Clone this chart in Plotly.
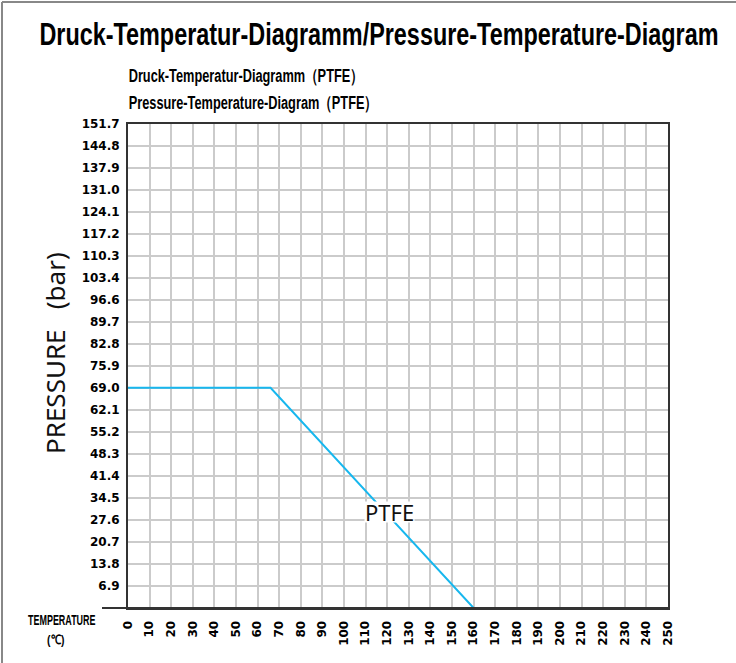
import plotly.graph_objects as go

# Data
temperature = [0, 66, 160]
pressure = [69.0, 69.0, 0.0]
x_ticks = list(range(0, 251, 10))
y_tick_labels = ["6.9", "13.8", "20.7", "27.6", "34.5", "41.4", "48.3", "55.2", "62.1",
                 "69.0", "75.9", "82.8", "89.7", "96.6", "103.4", "110.3", "117.2",
                 "124.1", "131.0", "137.9", "144.8", "151.7"]
y_tick_vals = [float(v) for v in y_tick_labels]
series_label = "PTFE"
label_pos = (121, 30.1)

W, H = 736, 663
L, R, T, B = 128, 68, 124, 55
pw, ph = W - L - R, H - T - B

def px(x):
    return (x - L) / pw

def py(y):
    return (H - B - y) / ph

fig = go.Figure()
fig.add_trace(go.Scatter(x=temperature, y=pressure, mode="lines",
                         line=dict(color="#17b7ee", width=2), showlegend=False,
                         hoverinfo="skip"))

fig.add_annotation(x=label_pos[0], y=label_pos[1], text=series_label, showarrow=False,
                   font=dict(family="Noto Sans", size=22, color="#111111"),
                   bgcolor="white", xanchor="center", yanchor="middle", borderpad=0,
                   height=20)

bold_font = dict(family="DejaVu Sans", size=12, color="black", weight="bold")

fig.update_xaxes(range=[0, 250], tickmode="array", tickvals=x_ticks,
                 ticktext=[str(v) for v in x_ticks], tickangle=-90,
                 showgrid=True, gridcolor="#cbcbcb", gridwidth=1.5,
                 zeroline=False, showline=True, linecolor="#333333", linewidth=2,
                 mirror=True, tickfont=bold_font, ticks="", ticklabelstandoff=6)
fig.update_yaxes(range=[0, 151.7], tickmode="array", tickvals=y_tick_vals,
                 ticktext=y_tick_labels, showgrid=True, gridcolor="#cbcbcb",
                 gridwidth=1.5, zeroline=False, showline=True, linecolor="#333333",
                 linewidth=2, mirror=True, tickfont=bold_font, ticks="",
                 ticklabelstandoff=4)

# y axis title
fig.add_annotation(xref="paper", yref="paper", x=px(55), y=py(353),
                   text="PRESSURE&nbsp;&nbsp;&nbsp;(bar)", showarrow=False, textangle=-90,
                   xanchor="center", yanchor="middle",
                   font=dict(family="Noto Sans", size=26, color="#111111"))

# extended bottom axis line to the left
fig.add_shape(type="line", xref="paper", yref="paper", x0=px(102), x1=1, y0=0, y1=0,
              line=dict(color="#333333", width=2))
# outer frame (top and left)
fig.add_shape(type="line", xref="paper", yref="paper", x0=px(2), x1=px(W + 5),
              y0=py(2), y1=py(2), line=dict(color="#888888", width=2))
fig.add_shape(type="line", xref="paper", yref="paper", x0=px(2), x1=px(2),
              y0=py(2), y1=py(H + 5), line=dict(color="#888888", width=2))

sans = "Liberation Sans"
fig.add_annotation(xref="paper", yref="paper", x=px(379), y=py(34),
                   text="Druck-Temperatur-Diagramm/Pressure-Temperature-Diagram",
                   showarrow=False, xanchor="center", yanchor="middle",
                   font=dict(family=sans, size=31, color="black", weight="bold"))
fig.add_annotation(xref="paper", yref="paper", x=px(126), y=py(76),
                   text="Druck-Temperatur-Diagramm（PTFE）", showarrow=False,
                   xanchor="left", yanchor="middle",
                   font=dict(family=sans, size=17.5, color="black", weight="bold"))
fig.add_annotation(xref="paper", yref="paper", x=px(126), y=py(103),
                   text="Pressure-Temperature-Diagram（PTFE）", showarrow=False,
                   xanchor="left", yanchor="middle",
                   font=dict(family=sans, size=17.5, color="black", weight="bold"))
fig.add_annotation(xref="paper", yref="paper", x=px(62), y=py(620),
                   text="TEMPERATURE", showarrow=False,
                   xanchor="center", yanchor="middle",
                   font=dict(family=sans, size=14, color="black", weight="bold"))
fig.add_annotation(xref="paper", yref="paper", x=px(56), y=py(639.5),
                   text="(℃)", showarrow=False,
                   xanchor="center", yanchor="middle",
                   font=dict(family=sans, size=13, color="black", weight="bold"))

fig.update_layout(width=W, height=H, margin=dict(l=L, r=R, t=T, b=B),
                  plot_bgcolor="white", paper_bgcolor="white")

post = """
document.body.style.margin='0';
var gd=document.querySelector('.plotly-graph-div');
gd.querySelectorAll('.annotation-text').forEach(function(t){
  var s=t.textContent; var sc=0, mode='c';
  if(s.indexOf('/Pressure')>=0){sc=0.755;}
  else if(s.indexOf('PTFE')>=0 && s.indexOf('Diagram')>=0){sc=0.73; mode='l';}
  else if(s.indexOf('TEMPERATURE')>=0){sc=0.64;}
  else if(s.indexOf('℃')>=0){sc=0.8;}
  if(sc){
    var b=t.getBBox(); var cx=(mode=='l')?b.x:(b.x+b.width/2);
    var ex=t.getAttribute('transform')||'';
    t.setAttribute('transform', ex+' translate('+cx+',0) scale('+sc+',1) translate('+(-cx)+',0)');
  }
});
"""

fig.write_html("out.html", post_script=post, config={"displayModeBar": False})
